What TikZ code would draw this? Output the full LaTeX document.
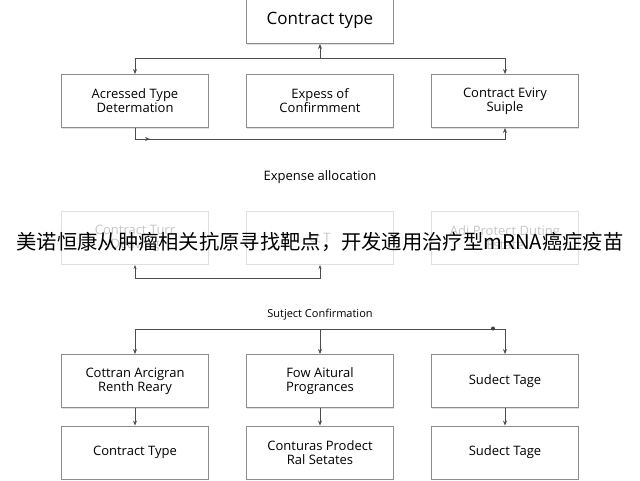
\documentclass[tikz,border=0pt]{standalone}
\usepackage{fontspec}
\setmainfont{Open Sans}
\newfontfamily\cjk{Noto Sans CJK SC}
\usetikzlibrary{arrows.meta,shadows}
\begin{document}
\begin{tikzpicture}[x=1pt,y=-1pt,
  box/.style={draw=black!45,line width=0.9pt,fill=white,drop shadow={shadow xshift=0.8pt,shadow yshift=-1pt,opacity=0.25},minimum width=147pt,minimum height=53pt,align=center,font=\fontsize{13}{14}\selectfont,inner sep=2pt},
  fbox/.style={draw=black!12,line width=0.9pt,fill=white,minimum width=147pt,minimum height=53pt,align=center,font=\fontsize{13}{14}\selectfont,text=black!22},
  ln/.style={draw=black!70,line width=1pt},
  ar/.style={ln,-{Stealth[length=5pt,width=4pt]}}]
\useasboundingbox (0,0) rectangle (640,480);
\fill[white] (0,0) rectangle (640,480);
\node[box,minimum height=47pt,font=\fontsize{17}{20}\selectfont] (top) at (320,20) {Contract type};
\node[box] (a1) at (135,101) {Acressed Type\\Determation};
\node[box] (a2) at (320,101) {Expess of\\Confirmment};
\node[box] (a3) at (505,101) {Contract Eviry\\Suiple};
\coordinate (j1) at (320,58);
\draw[ar] (j1) -- (top.south);
\draw[ar] (j1) -| (a1.north);
\draw[ar] (j1) -| (a3.north);
\coordinate (j2) at (135,139);
\draw[ln] (a1.south) -- (j2);
\draw[ar] (j2) -- (150,139);
\draw[ar] (j2) -| (a3.south);
\node[font=\fontsize{13}{14}\selectfont] (ea) at (320,177) {Expense allocation};
\node[fbox] (b1) at (135,238) {Contract Turr\\Deaving};
\node[fbox] (b2) at (320,238) {ct T};
\node[fbox] (b3) at (505,238) {Adj Protect Duting\\Estate};
\coordinate (j3) at (135,278);
\draw[ln,{Stealth[length=4pt,width=3pt]}-{Stealth[length=4pt,width=3pt]}] (b1.south) |- (b2.south |- j3) -- (b2.south);
\node[font=\cjk\fontsize{20.3}{24}\selectfont] (cap) at (320,242) {美诺恒康从肿瘤相关抗原寻找靶点，开发通用治疗型mRNA癌症疫苗};
\node[font=\fontsize{11}{13}\selectfont] (sc) at (320,315) {Sutject Confirmation};
\node[box] (c1) at (135,381) {Cottran Arcigran\\Renth Reary};
\node[box] (c2) at (320,381) {Fow Aitural\\Progrances};
\node[box] (c3) at (505,381) {Sudect Tage};
\node[box] (d1) at (135,452.5) {Contract Type};
\node[box] (d2) at (320,452.5) {Conturas Prodect\\Ral Setates};
\node[box] (d3) at (505,452.5) {Sudect Tage};
\coordinate (j4) at (320,329);
\draw[ar] (j4) -| (c1.north);
\draw[ar] (j4) -- (c2.north);
\draw[ar] (j4) -| (c3.north);
\fill[black!75] (493,328.5) circle (2pt);
\draw[ar] (c1) -- (d1);
\draw[ar] (c2) -- (d2);
\draw[ar] (c3) -- (d3);
\end{tikzpicture}
\end{document}
